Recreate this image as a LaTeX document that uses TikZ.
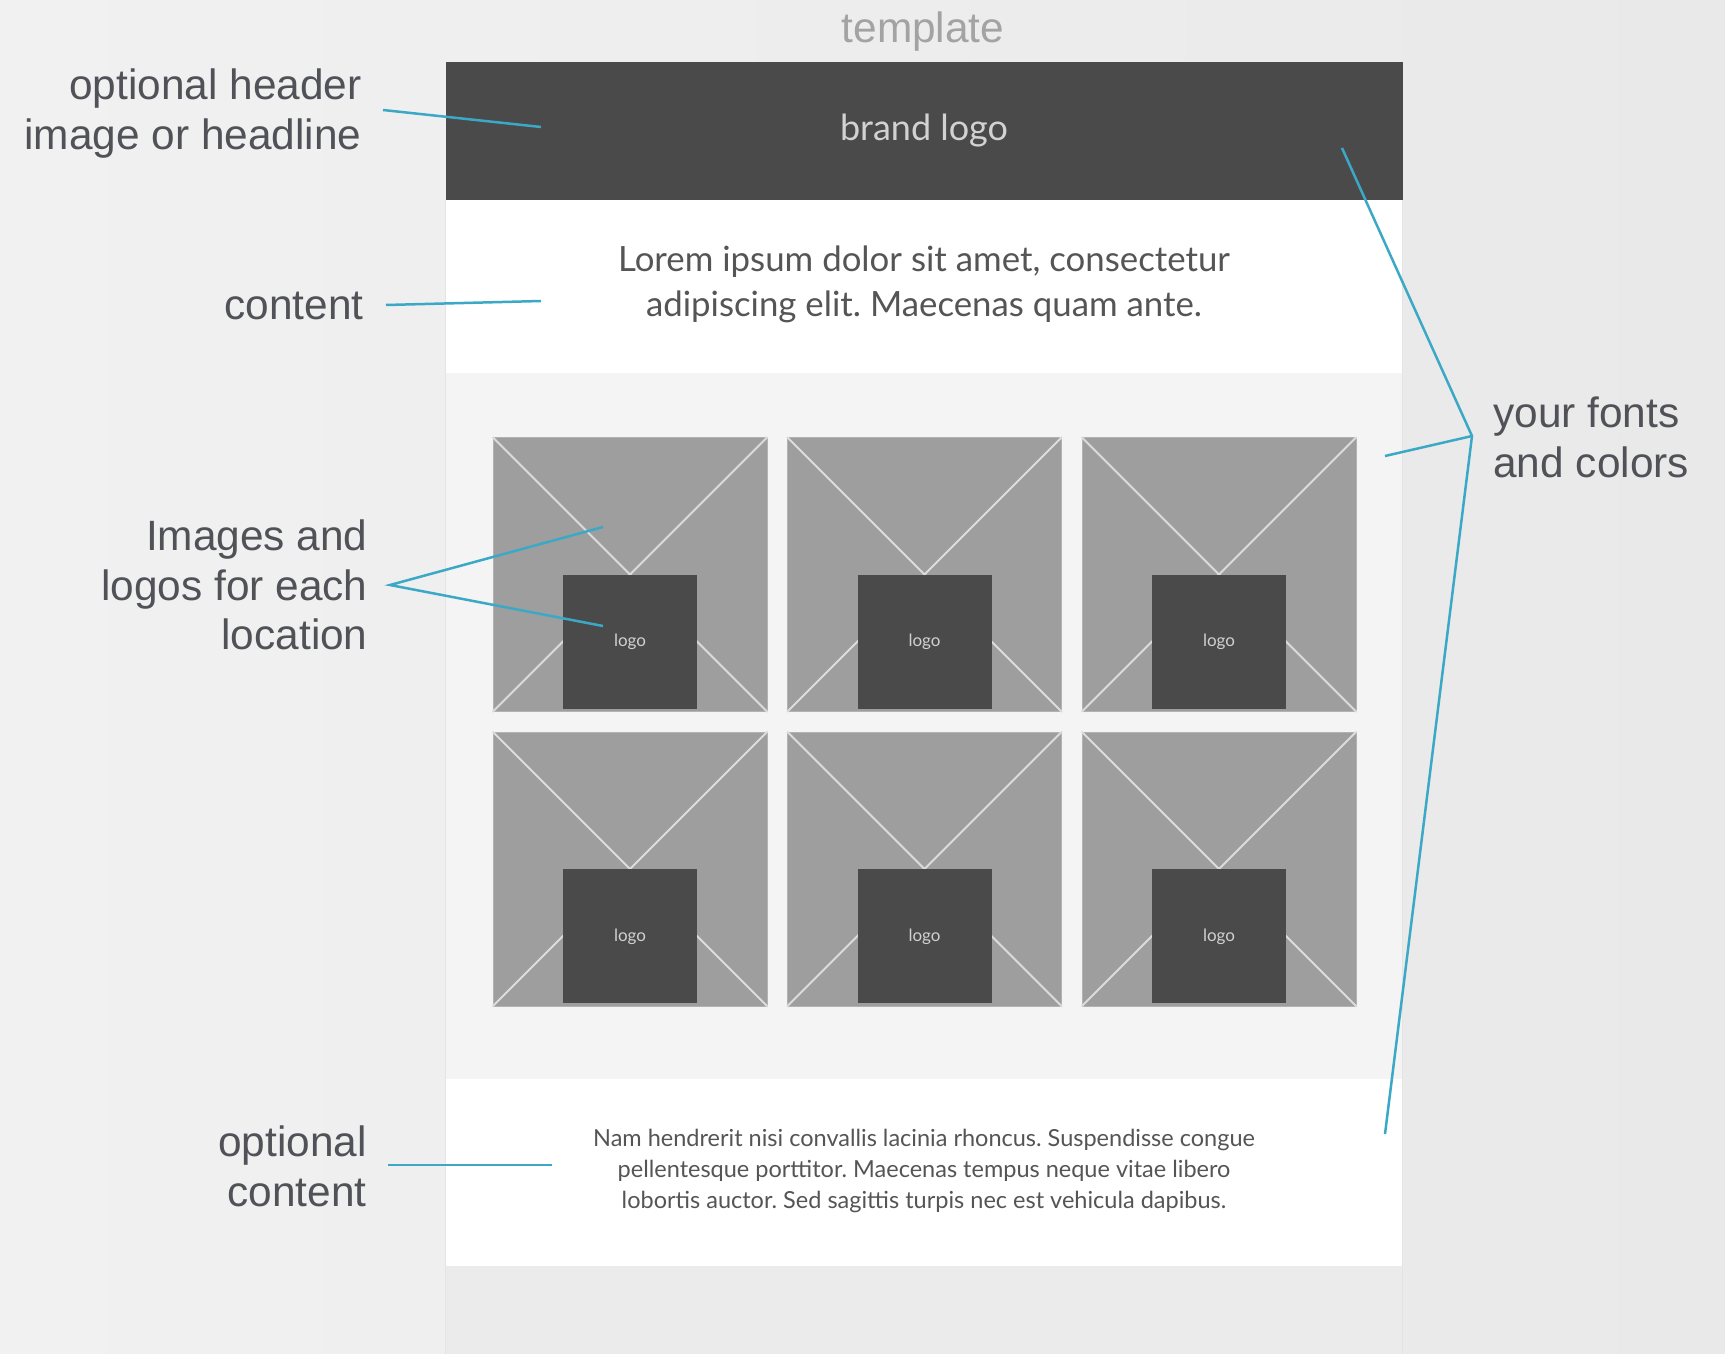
\documentclass[tikz,border=0pt]{standalone}
\usepackage{fontspec}
\setmainfont{Liberation Sans}
\newfontfamily\av{Lato}
\frenchspacing
\definecolor{bgl}{HTML}{F1F1F1}
\definecolor{bgr}{HTML}{E9E9E9}
\definecolor{hdrc}{HTML}{4A4A4A}
\definecolor{hdrtext}{HTML}{D2D2D2}
\definecolor{gridbg}{HTML}{F4F4F4}
\definecolor{botbg}{HTML}{EBEBEB}
\definecolor{panelline}{HTML}{E4E4E4}
\definecolor{tilec}{HTML}{9E9E9E}
\definecolor{tileb}{HTML}{B2B2B2}
\definecolor{diagc}{HTML}{DCDCDC}
\definecolor{logoc}{HTML}{4A4A4A}
\definecolor{logot}{HTML}{D0D0D0}
\definecolor{labelc}{HTML}{505258}
\definecolor{titlec}{HTML}{A3A3A3}
\definecolor{bodyc}{HTML}{555555}
\definecolor{bluec}{HTML}{3BA9C6}
\begin{document}
\begin{tikzpicture}[x=0.5pt,y=-0.5pt,
  lbl/.style={font=\fontsize{21.2}{24.75}\selectfont, text=labelc, inner sep=0pt},
  conn/.style={draw=bluec, line width=1.25pt},
  hdrbox/.style={fill=hdrc, minimum width=478.5pt, minimum height=69.2pt, inner sep=0pt},
  tilebox/.style={fill=tilec, draw=tileb, line width=0.5pt, minimum size=137pt, inner sep=0pt},
  diag/.style={draw=diagc, line width=1pt},
  logobox/.style={fill=logoc, minimum size=67pt, inner sep=0pt, text=logot, font=\av\fontsize{8.5}{10}\selectfont},
  bodytext/.style={font=\av, text=bodyc, align=center, inner sep=0pt}]
\useasboundingbox (0,0) rectangle (1725,1354);
\shade[left color=bgl, right color=bgr] (0,0) rectangle (1725,1354);
% panel sections
\fill[white] (445.5,200) rectangle (1402.5,373);
\fill[gridbg] (445.5,373) rectangle (1402.5,1079);
\fill[white] (445.5,1079) rectangle (1402.5,1266);
\fill[botbg] (445.5,1266) rectangle (1402.5,1354);
\draw[panelline, line width=0.6pt] (445.5,200) -- (445.5,1354) (1402.5,200) -- (1402.5,1354);
\node[hdrbox] (hdr) at (924,130.8) {};
\node[font=\av\fontsize{18}{22}\selectfont, text=hdrtext, inner sep=0pt] (brand) at (924,131) {brand logo};
\node[font=\fontsize{21.2}{24}\selectfont, text=titlec, inner sep=0pt] (title) at (923,31.5) {template};
% content text
\node[bodytext, font=\av\fontsize{17.4}{22.5}\selectfont] (lorem) at (924,284.5)
  {Lorem ipsum dolor sit amet, consectetur\\adipiscing elit. Maecenas quam ante.};
\node[bodytext, font=\av\fontsize{11.75}{15.5}\selectfont] (nam) at (924,1171)
  {Nam hendrerit nisi convallis lacinia rhoncus. Suspendisse congue\\pellentesque porttitor. Maecenas tempus neque vitae libero\\lobortis auctor. Sed sagittis turpis nec est vehicula dapibus.};
% tiles
\foreach \i/\x/\y in {1/630/574.5, 2/924.5/574.5, 3/1219/574.5, 4/630/869, 5/924.5/869, 6/1219/869} {
  \node[tilebox] (t\i) at (\x,\y) {};
  \draw[diag] (t\i.north west) -- (t\i.south east) (t\i.north east) -- (t\i.south west);
  \node[logobox, anchor=north] (l\i) at (t\i.center) {\raisebox{-1pt}{logo}};
}
% labels
\node[lbl, align=right, anchor=east] (lhdr) at (362,113.3) {optional header\\image or headline};
\node[lbl, align=right, anchor=east] (lcont) at (364,306) {content};
\node[lbl, align=right, anchor=east] (limg) at (368,585) {Images and\\logos for each\\location};
\node[lbl, align=right, anchor=east] (lopt) at (367,1166.5) {optional\\content};
\node[lbl, align=left, anchor=west] (lfont) at (1493,437.5) {your fonts\\and colors};
% connectors
\coordinate (chs) at (383,110); \coordinate (che) at (541,127);
\coordinate (ccs) at (386,305); \coordinate (cce) at (541,301);
\coordinate (cis) at (390,585); \coordinate (cie1) at (603,527); \coordinate (cie2) at (603,626);
\coordinate (cos) at (388,1165); \coordinate (coe) at (552,1165);
\coordinate (hub) at (1472,436);
\coordinate (cf1) at (1342,148); \coordinate (cf2) at (1385,456); \coordinate (cf3) at (1385,1134);
\draw[conn] (chs) -- (che);
\draw[conn] (ccs) -- (cce);
\draw[conn] (cie1) -- (cis) -- (cie2);
\draw[conn] (cos) -- (coe);
\draw[conn] (cf1) -- (hub) -- (cf3);
\draw[conn] (cf2) -- (hub);
\end{tikzpicture}
\end{document}
